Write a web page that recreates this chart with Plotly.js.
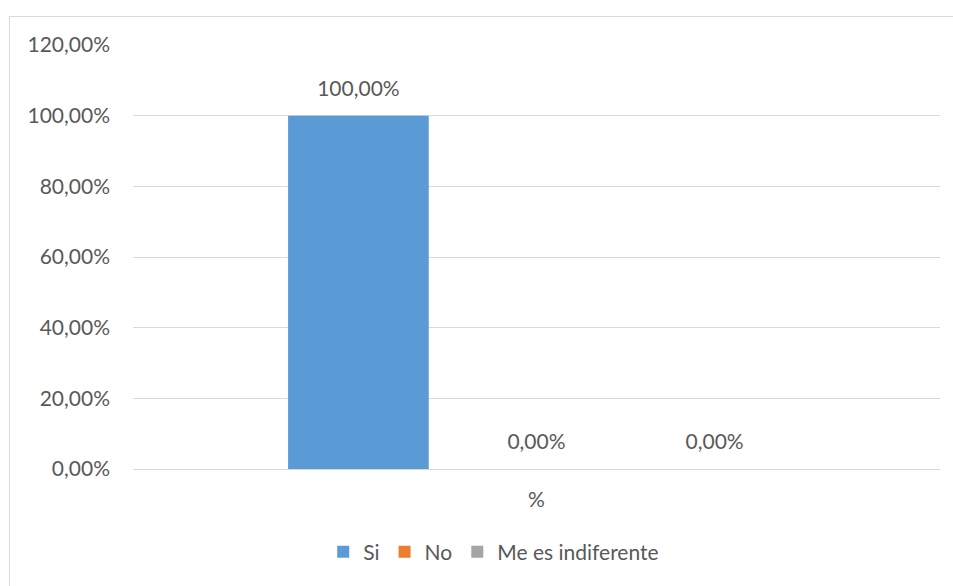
<!DOCTYPE html>
<html>
<head>
<meta charset="utf-8">
<script src="https://cdn.plot.ly/plotly-3.0.1.min.js"></script>
<style>
html,body{margin:0;padding:0;background:#fff;}
#frame{position:absolute;left:9px;top:16px;width:1000px;height:600px;border-left:1px solid #d9d9d9;border-top:1px solid #d9d9d9;pointer-events:none;}
#chart{position:absolute;left:0;top:0;width:953px;height:586px;}
</style>
</head>
<body>
<div id="chart"></div>
<div id="frame"></div>
<script>
const categories = ['%'];
const seriesNames = ['Si', 'No', 'Me es indiferente'];
const siValues = [1.0];
const noValues = [0.0];
const indifValues = [0.0];
const seriesColors = ['#5B9BD5', '#ED7D31', '#A5A5A5'];
const allValues = [siValues, noValues, indifValues];

const fontFamily = 'Lato, "Open Sans", sans-serif';
const textColor = '#595959';
const fs = 21;

const barTraces = allValues.map((vals, i) => ({
  type: 'bar',
  name: seriesNames[i],
  x: categories,
  y: vals,
  marker: {color: seriesColors[i]},
  hoverinfo: 'none'
}));

const labelTraces = allValues.map((vals, i) => ({
  type: 'scatter',
  mode: 'markers+text',
  name: seriesNames[i] + ' label',
  x: categories,
  y: vals,
  marker: {size: 22, opacity: 0},
  text: vals.map(v => v),
  texttemplate: '%{y:.2%}',
  textposition: 'top center',
  textfont: {family: fontFamily, size: fs, color: textColor},
  cliponaxis: false,
  showlegend: false,
  hoverinfo: 'none'
}));

const layout = {
  width: 953,
  height: 586,
  margin: {l: 133, r: 13, t: 45, b: 117},
  paper_bgcolor: '#ffffff',
  plot_bgcolor: '#ffffff',
  separators: ', ',
  barmode: 'group',
  bargap: 0.338,
  bargroupgap: 0.21,
  scattermode: 'group',
  scattergap: 0.338,
  showlegend: true,
  font: {family: fontFamily, size: fs, color: textColor},
  xaxis: {
    type: 'category',
    showgrid: false,
    showline: true,
    linecolor: '#d9d9d9',
    linewidth: 1,
    ticks: '',
    ticklabelstandoff: 12,
    tickfont: {family: fontFamily, size: fs, color: textColor}
  },
  yaxis: {
    range: [0, 1.2],
    dtick: 0.2,
    tick0: 0,
    tickformat: '.2%',
    showgrid: true,
    gridcolor: '#d9d9d9',
    gridwidth: 1,
    zeroline: false,
    showline: false,
    ticks: '',
    ticklabelstandoff: 22,
    tickfont: {family: fontFamily, size: fs, color: textColor}
  },
  legend: {
    orientation: 'h',
    x: 0.447,
    xanchor: 'center',
    y: -0.196,
    yanchor: 'middle',
    font: {family: fontFamily, size: fs, color: textColor},
    itemwidth: 30,
    bgcolor: 'rgba(0,0,0,0)'
  }
};

Plotly.newPlot('chart', barTraces.concat(labelTraces), layout, {staticPlot: true, displayModeBar: false});
</script>
</body>
</html>
